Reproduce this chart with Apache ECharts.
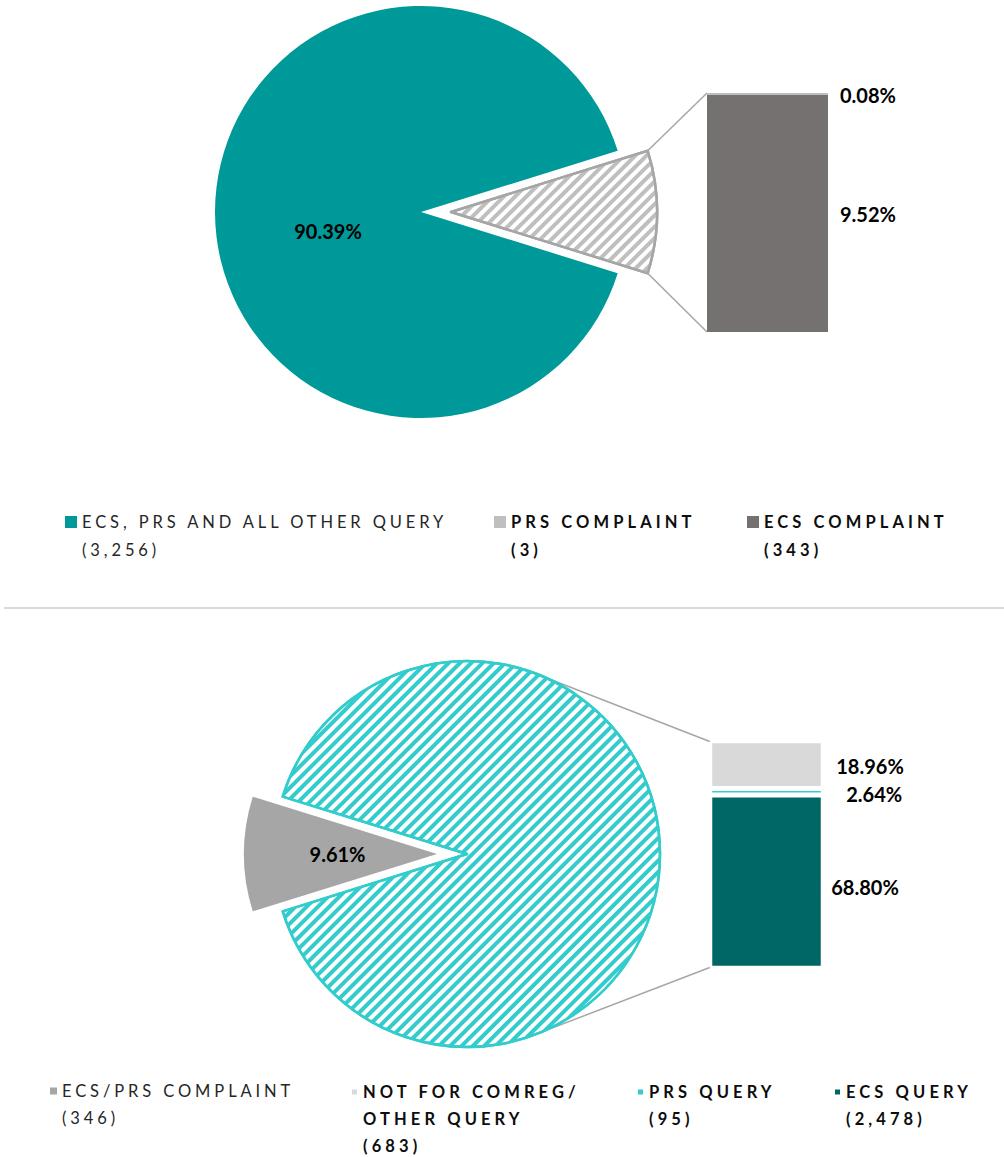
<!DOCTYPE html>
<html><head><meta charset="utf-8">
<script src="https://cdn.jsdelivr.net/npm/echarts@6/dist/echarts.min.js"></script>
<style>html,body{margin:0;padding:0;background:#fff}#c{width:1004px;height:1157px}</style>
</head><body><div id="c"></div>
<script>
// ---------- DATA ----------
// Top chart: pie of bar
const topMainName = 'ECS, PRS AND ALL OTHER QUERY';
const topMainValue = 3256;
const topBarNames = ['ECS COMPLAINT', 'PRS COMPLAINT'];   // stacked bottom -> top
const topBarValues = [343, 3];

// Bottom chart: pie of bar
const botMainName = 'ECS/PRS COMPLAINT';
const botMainValue = 346;
const botBarNames = ['ECS QUERY', 'PRS QUERY', 'NOT FOR COMREG/ OTHER QUERY']; // bottom -> top
const botBarValues = [2478, 95, 683];

// ---------- STYLE ----------
const FONT = 'Lato';
const SPACING_NORMAL = 3.9, SPACING_BOLD = 4.1;
const C_TEAL = '#009999', C_TEAL_LIGHT = '#33cccc', C_TEAL_DARK = '#006666';
const C_GREY_DARK = '#767171', C_GREY_MID = '#a6a6a6', C_GREY_LIGHT = '#bfbfbf', C_GREY_PALE = '#d9d9d9';
const topBarColors = [C_GREY_DARK, C_GREY_LIGHT];
const botBarColors = [C_TEAL_DARK, C_TEAL_LIGHT, C_GREY_PALE];

const sum = a => a.reduce((s, v) => s + v, 0);
const topOther = sum(topBarValues);
const topTotal = topMainValue + topOther;
const botOther = sum(botBarValues);
const botTotal = botMainValue + botOther;
const pct = (v, t) => (v / t * 100).toFixed(2) + '%';

const counts = {};
counts[topMainName] = topMainValue;
topBarNames.forEach((n, i) => counts[n] = topBarValues[i]);
counts[botMainName] = botMainValue;
botBarNames.forEach((n, i) => counts[n] = botBarValues[i]);

// layout
const topPie = {cx: 421, cy: 212, r: 206, off: 30};
const botPie = {cx: 467, cy: 854, r: 193, off: 30};
const topGrid = {left: 707, top: 93, width: 121, height: 239};
const BAR_BORDER = 2.5;
const botGrid = {left: 711 - BAR_BORDER / 2, top: 742 - BAR_BORDER / 2, width: 111 + BAR_BORDER, height: 225 + BAR_BORDER};

const labelStyle = {color: '#000', fontFamily: FONT, fontWeight: 'bold', fontSize: 20};

function legend(name, left, firstLineY, sq, bold, lineH) {
  const disp = name.replace('/ ', '/\n') + '\n(' + counts[name].toLocaleString('en-US') + ')';
  const n = disp.split('\n').length;
  const H = n * lineH;
  const y0 = lineH / 2 - sq / 2;
  const e = 0.01;
  const icon = 'path://M0,0h' + e + 'v' + e + 'h-' + e + 'Z' +
    'M0,' + y0 + 'h' + sq + 'v' + sq + 'h-' + sq + 'Z' +
    'M0,' + (H - e) + 'h' + e + 'v' + e + 'h-' + e + 'Z';
  return {
    data: [{name: name, icon: icon}],
    left: left, top: firstLineY - lineH / 2, itemWidth: sq, itemHeight: H, padding: 0,
    selectedMode: false, orient: 'horizontal',
    formatter: () => disp,
    textStyle: {
      fontFamily: FONT, fontSize: 16.5, lineHeight: lineH,
      fontWeight: bold ? 'bold' : 'normal', color: bold ? '#0d0d0d' : '#262626'
    }
  };
}

const hatch = (color, dash) => ({symbol: 'rect', symbolSize: 1, dashArrayX: [1, 0], dashArrayY: dash, rotation: -Math.PI / 4, color: color});

const option = {
  animation: false,
  backgroundColor: '#fff',
  legend: [
    legend(topMainName, 65, 522, 12, false, 28),
    legend(topBarNames[1], 494, 522, 12, true, 28),
    legend(topBarNames[0], 747, 522, 12, true, 28),
    legend(botMainName, 50, 1091, 7, false, 27),
    legend(botBarNames[2], 350, 1091, 7, true, 27),
    legend(botBarNames[1], 636, 1091, 7, true, 27),
    legend(botBarNames[0], 833, 1091, 7, true, 27)
  ],
  grid: [
    {left: topGrid.left, top: topGrid.top, width: topGrid.width, height: topGrid.height},
    {left: botGrid.left, top: botGrid.top, width: botGrid.width, height: botGrid.height}
  ],
  xAxis: [
    {type: 'category', data: ['a'], gridIndex: 0, show: false},
    {type: 'category', data: ['a'], gridIndex: 1, show: false}
  ],
  yAxis: [
    {type: 'value', gridIndex: 0, min: 0, max: topOther, show: false},
    {type: 'value', gridIndex: 1, min: 0, max: botOther, show: false}
  ],
  series: [
    {
      type: 'pie', silent: true, center: [topPie.cx, topPie.cy], radius: topPie.r,
      startAngle: topOther / topTotal * 180, clockwise: true,
      selectedMode: 'single', selectedOffset: topPie.off,
      label: {show: false}, labelLine: {show: false},
      data: [
        {name: 'COMPLAINTS', value: topOther, selected: true,
          itemStyle: {color: '#fff', borderColor: C_GREY_MID, borderWidth: 2.5, decal: hatch(C_GREY_LIGHT, [3.2, 3.8])}},
        {name: topMainName, value: topMainValue, itemStyle: {color: C_TEAL},
          label: Object.assign({show: true, position: 'inside', offset: [13, 19],
            formatter: p => pct(p.value, topTotal)}, labelStyle)}
      ]
    },
    {
      type: 'pie', silent: true, center: [botPie.cx, botPie.cy], radius: botPie.r,
      startAngle: 180 + botMainValue / botTotal * 180, clockwise: true,
      selectedMode: 'single', selectedOffset: botPie.off,
      label: {show: false}, labelLine: {show: false},
      data: [
        {name: botMainName, value: botMainValue, selected: true, itemStyle: {color: C_GREY_MID},
          label: Object.assign({show: true, position: 'inside', offset: [-35, 6],
            formatter: p => pct(p.value, botTotal)}, labelStyle)},
        {name: 'QUERIES', value: botOther,
          itemStyle: {color: '#fff', borderColor: C_TEAL_LIGHT, borderWidth: 2.5, decal: hatch(C_TEAL_LIGHT, [3.5, 3.5])}}
      ]
    }
  ].concat(topBarNames.map((n, i) => ({
    type: 'bar', name: n, xAxisIndex: 0, yAxisIndex: 0, stack: 'top', barWidth: '100%', silent: true,
    data: [topBarValues[i]], itemStyle: {color: topBarColors[i]},
    label: Object.assign({show: true, position: 'right', distance: 12, offset: [0, i === 1 ? 1 : 0],
      formatter: p => pct(p.value, topTotal)}, labelStyle)
  }))).concat(botBarNames.map((n, i) => ({
    type: 'bar', name: n, xAxisIndex: 1, yAxisIndex: 1, stack: 'bot', barWidth: '100%', silent: true,
    data: [botBarValues[i]], itemStyle: {color: botBarColors[i], borderColor: '#fff', borderWidth: BAR_BORDER},
    label: Object.assign({show: true, position: 'right', distance: [8, 23, 13][i], offset: [0, [5, 2.5, 1.5][i]],
      formatter: p => pct(p.value, botTotal)}, labelStyle)
  })))
};

const dom = document.getElementById('c');
const chart = echarts.init(dom, null, {renderer: 'svg'});
chart.setOption(option);

// connectors computed from data + layout
function tangentPoint(pie, px, py, upper) {
  const dx = px - pie.cx, dy = pie.cy - py;
  const d = Math.hypot(dx, dy);
  const base = Math.atan2(dy, dx);
  const a = base + (upper ? 1 : -1) * Math.acos(pie.r / d);
  return [pie.cx + pie.r * Math.cos(a), pie.cy - pie.r * Math.sin(a)];
}
const tTop = chart.convertToPixel({xAxisIndex: 0, yAxisIndex: 0}, [0, topOther]);
const tBot = chart.convertToPixel({xAxisIndex: 0, yAxisIndex: 0}, [0, 0]);
const half = topOther / topTotal * Math.PI;
const ax = topPie.cx + topPie.off;
const tA = [ax + topPie.r * Math.cos(half), topPie.cy - topPie.r * Math.sin(half)];
const tB = [ax + topPie.r * Math.cos(half), topPie.cy + topPie.r * Math.sin(half)];
const tLeft = topGrid.left;
const bLeft = botGrid.left + BAR_BORDER / 2;
const bTopY = chart.convertToPixel({xAxisIndex: 1, yAxisIndex: 1}, [0, botOther])[1] + BAR_BORDER / 2;
const bBotY = chart.convertToPixel({xAxisIndex: 1, yAxisIndex: 1}, [0, 0])[1] - BAR_BORDER / 2;
const bA = tangentPoint(botPie, bLeft, bTopY, true);
const bB = tangentPoint(botPie, bLeft, bBotY, false);
const lineStyle = {stroke: C_GREY_MID, lineWidth: 1.5};
chart.setOption({
  graphic: [
    {type: 'line', silent: true, shape: {x1: tA[0], y1: tA[1], x2: tLeft, y2: tTop[1]}, style: lineStyle},
    {type: 'line', silent: true, shape: {x1: tB[0], y1: tB[1], x2: tLeft, y2: tBot[1]}, style: lineStyle},
    {type: 'line', silent: true, shape: {x1: bA[0], y1: bA[1], x2: bLeft, y2: bTopY}, style: lineStyle},
    {type: 'line', silent: true, shape: {x1: bB[0], y1: bB[1], x2: bLeft, y2: bBotY}, style: lineStyle},
    {type: 'line', silent: true, shape: {x1: 4, y1: 608, x2: 1004, y2: 608}, style: {stroke: C_GREY_PALE, lineWidth: 2}}
  ]
});

function applySpacing() {
  dom.querySelectorAll('svg text').forEach(t => {
    if (t.textContent.indexOf('%') >= 0) return;
    const w = parseInt(getComputedStyle(t).fontWeight, 10) || 400;
    t.style.letterSpacing = (w >= 600 ? SPACING_BOLD : SPACING_NORMAL) + 'px';
  });
}
chart.on('finished', applySpacing);
applySpacing();
setTimeout(applySpacing, 0);
requestAnimationFrame(applySpacing);
</script></body></html>
